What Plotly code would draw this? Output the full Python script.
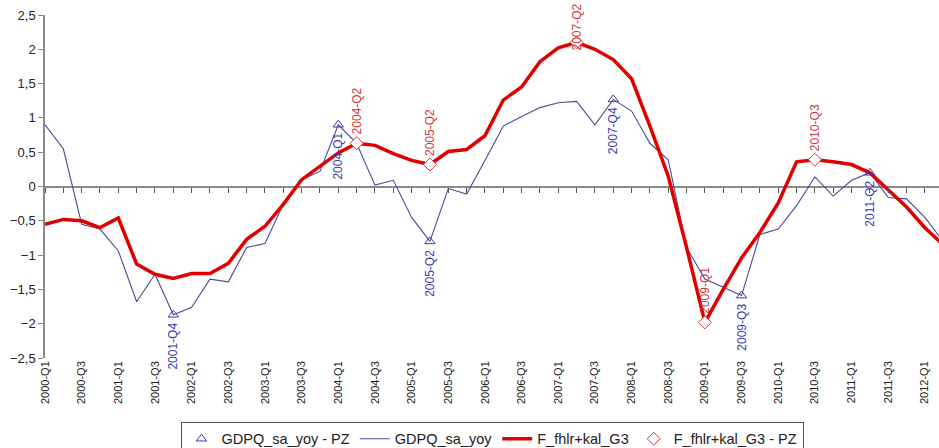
import plotly.graph_objects as go

# ---------------- data ----------------
years = list(range(2000, 2013))
quarters = [f"{y}-Q{q}" for y in years for q in (1, 2, 3, 4)][:50]   # 2000-Q1 .. 2012-Q2

gdp_yoy = [
    0.90, 0.55, -0.55, -0.62,      # 2000
    -0.94, -1.68, -1.28, -1.87,    # 2001
    -1.76, -1.35, -1.39, -0.89,    # 2002
    -0.83, -0.26, 0.10, 0.22,      # 2003
    0.90, 0.63, 0.02, 0.09,        # 2004
    -0.45, -0.80, -0.03, -0.11,    # 2005
    0.38, 0.88, 1.02, 1.15,        # 2006
    1.22, 1.24, 0.90, 1.27,        # 2007
    1.10, 0.63, 0.39, -0.89,       # 2008
    -1.35, -1.47, -1.59, -0.70,    # 2009
    -0.62, -0.28, 0.14, -0.14,     # 2010
    0.09, 0.20, -0.16, -0.18,      # 2011
    -0.45, -0.80,                  # 2012
]

fhlr_g3 = [
    -0.55, -0.48, -0.50, -0.60,    # 2000
    -0.46, -1.13, -1.28, -1.34,    # 2001
    -1.27, -1.27, -1.12, -0.77,    # 2002
    -0.58, -0.26, 0.10, 0.30,      # 2003
    0.49, 0.63, 0.60, 0.48,        # 2004
    0.38, 0.32, 0.51, 0.54,        # 2005
    0.74, 1.26, 1.45, 1.82,        # 2006
    2.02, 2.10, 2.00, 1.85,        # 2007
    1.57, 0.88, 0.15, -0.89,       # 2008
    -1.98, -1.50, -1.04, -0.67,    # 2009
    -0.24, 0.36, 0.39, 0.36,       # 2010
    0.32, 0.20, -0.05, -0.30,      # 2011
    -0.60, -0.85,                  # 2012
]

gdp_pz_quarters = ["2001-Q4", "2004-Q1", "2005-Q2", "2007-Q4", "2009-Q3", "2011-Q2"]
fhlr_pz_quarters = ["2004-Q2", "2005-Q2", "2007-Q2", "2009-Q1", "2010-Q3"]

tick_labels = quarters[::2]          # 2000-Q1, 2000-Q3, ... 2012-Q1
y_ticks = [-2.5, -2, -1.5, -1, -0.5, 0, 0.5, 1, 1.5, 2, 2.5]

# ---------------- styles ----------------
FONT = "Arial, Liberation Sans, sans-serif"
BLUE_LINE = "#4a4a9c"
BLUE_TEXT = "#3b3bb3"
RED_LINE = "#e00000"
RED_TEXT = "#d23a3a"
AXIS_GRAY = "#8a8a8a"

gdp_map = dict(zip(quarters, gdp_yoy))
fhlr_map = dict(zip(quarters, fhlr_g3))

X_END = 48.77

fig = go.Figure()

fig.add_trace(go.Scatter(
    x=quarters, y=gdp_yoy, mode="lines", name="GDPQ_sa_yoy",
    line=dict(color=BLUE_LINE, width=1.1), legendrank=2,
))
fig.add_trace(go.Scatter(
    x=quarters, y=fhlr_g3, mode="lines", name="F_fhlr+kal_G3",
    line=dict(color=RED_LINE, width=3.5), legendrank=3,
))
fig.add_trace(go.Scatter(
    x=gdp_pz_quarters, y=[gdp_map[q] for q in gdp_pz_quarters],
    mode="markers", name="GDPQ_sa_yoy - PZ",
    marker=dict(symbol="triangle-up-open", size=9, color=BLUE_TEXT,
                line=dict(width=1, color=BLUE_TEXT)),
    legendrank=1,
))
fig.add_trace(go.Scatter(
    x=fhlr_pz_quarters, y=[fhlr_map[q] for q in fhlr_pz_quarters],
    mode="markers", name="F_fhlr+kal_G3 - PZ",
    marker=dict(symbol="diamond", size=10, color="white",
                line=dict(width=1, color=RED_TEXT)),
    legendrank=4,
))
# carrier for the tick-mark axis drawn along the zero line
fig.add_trace(go.Scatter(x=[], y=[], xaxis="x2", showlegend=False, hoverinfo="skip"))

# point labels
for q in gdp_pz_quarters:
    fig.add_annotation(
        x=q, y=gdp_map[q], text=q, showarrow=False, textangle=-90,
        xanchor="center", yanchor="top", yshift=-6,
        font=dict(family=FONT, size=12, color=BLUE_TEXT),
    )
for q in fhlr_pz_quarters:
    shift = -10 if q == "2007-Q2" else 7   # top label pushed inside the plot
    fig.add_annotation(
        x=q, y=fhlr_map[q], text=q, showarrow=False, textangle=-90,
        xanchor="center", yanchor="bottom", yshift=shift,
        font=dict(family=FONT, size=12, color=RED_TEXT),
    )

fig.update_layout(
    width=939, height=448,
    margin=dict(l=45, r=0, t=15, b=90, autoexpand=False),
    paper_bgcolor="white", plot_bgcolor="white",
    separators=", ",
    font=dict(family=FONT, size=12, color="#222"),
    showlegend=True,
    legend=dict(
        orientation="h", x=0.5, xanchor="center", y=-0.186, yanchor="top",
        bordercolor="#555", borderwidth=1, bgcolor="white",
        font=dict(family=FONT, size=14.5, color="#222"),
        traceorder="normal", itemwidth=30,
    ),
    xaxis=dict(
        type="category", categoryorder="array", categoryarray=quarters,
        range=[0, X_END], tickmode="array", tickvals=tick_labels, ticktext=tick_labels,
        tickangle=-90, ticks="", showline=False, showgrid=False, zeroline=False,
        automargin=False,
        tickfont=dict(family=FONT, size=11, color="#222"),
    ),
    xaxis2=dict(
        overlaying="x", anchor="free", position=0.5, side="bottom",
        range=[0, X_END], tickmode="linear", tick0=0, dtick=1,
        ticks="outside", ticklen=5, tickcolor="#555", tickwidth=1,
        showticklabels=False, showgrid=False, zeroline=False, showline=False,
    ),
    yaxis=dict(
        range=[-2.5, 2.5], tickmode="array", tickvals=y_ticks,
        showline=True, linecolor=AXIS_GRAY, linewidth=1.5,
        ticks="outside", ticklen=5, tickcolor=AXIS_GRAY,
        showgrid=False, zeroline=True, zerolinecolor=AXIS_GRAY, zerolinewidth=1.5,
        automargin=False,
        tickfont=dict(family=FONT, size=13, color="#222"),
    ),
)

fig.write_html(
    "out.html",
    config={"displayModeBar": False},
    post_script="document.body.style.margin='0';document.body.style.overflow='hidden';",
)
